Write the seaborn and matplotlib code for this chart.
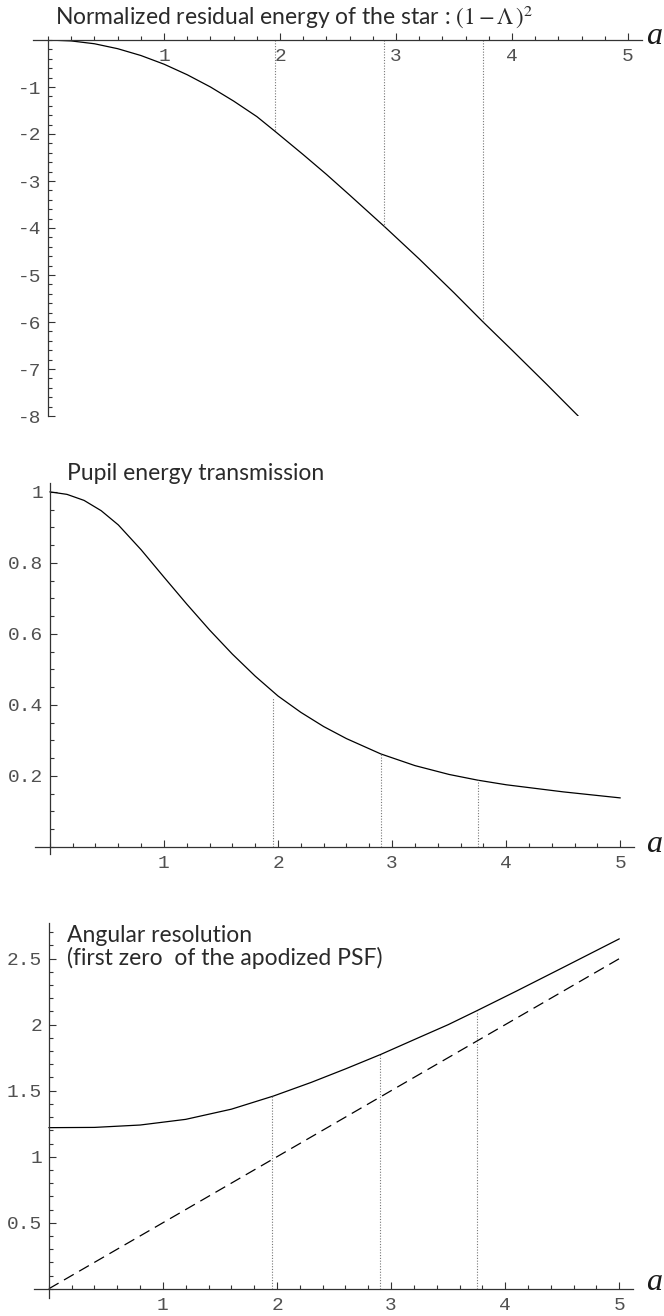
import matplotlib
matplotlib.use("Agg")
import matplotlib.pyplot as plt
import seaborn as sns
from matplotlib.ticker import MultipleLocator

sns.set_theme(style="white")
plt.rcParams.update({"mathtext.fontset": "stix", "font.family": ["DejaVu Sans"],
                     "xtick.bottom": True, "ytick.left": True})

# --- valeurs ---
a_residual = [0, 0.2, 0.4, 0.6, 0.8, 1.0, 1.2, 1.4, 1.6, 1.8, 1.96, 2.2, 2.4, 2.6,
              2.9, 3.2, 3.5, 3.75, 4.0, 4.3, 4.57]
log_residual = [0, -0.02, -0.08, -0.185, -0.33, -0.515, -0.74, -1.0, -1.3, -1.63, -1.95,
                -2.44, -2.86, -3.3, -3.97, -4.66, -5.38, -6.0, -6.6, -7.33, -8.0]

a_transmission = [0, 0.15, 0.3, 0.45, 0.6, 0.8, 1.0, 1.2, 1.4, 1.6, 1.8, 2.0, 2.2, 2.4,
                  2.6, 2.9, 3.2, 3.5, 3.75, 4.0, 4.5, 5.0]
transmission = [1.0, 0.993, 0.976, 0.947, 0.907, 0.837, 0.76, 0.684, 0.611, 0.543, 0.481,
                0.425, 0.379, 0.339, 0.305, 0.262, 0.229, 0.204, 0.188, 0.175, 0.155,
                0.138]

a_resolution = [0, 0.4, 0.8, 1.2, 1.6, 1.97, 2.3, 2.6, 2.91, 3.25, 3.5, 3.75, 4.1, 4.5, 5.0]
resolution = [1.22, 1.222, 1.24, 1.283, 1.36, 1.46, 1.563, 1.665, 1.775, 1.905, 2.0,
              2.105, 2.255, 2.43, 2.65]
a_diffraction = [0, 5]
diffraction = [0, 2.5]

a_marks = [1.96, 2.9, 3.75]
marks_residual = [-1.95, -3.97, -6.0]
marks_transmission = [0.42, 0.262, 0.188]
marks_resolution = [1.46, 1.775, 2.105]

x_ticks = [1, 2, 3, 4, 5]
y_ticks_residual = [-1, -2, -3, -4, -5, -6, -7, -8]
y_labels_residual = ["-1", "-2", "-3", "-4", "-5", "-6", "-7", "-8"]
y_ticks_transmission = [0.2, 0.4, 0.6, 0.8, 1.0]
y_labels_transmission = ["0.2", "0.4", "0.6", "0.8", "1"]
y_ticks_resolution = [0.5, 1.0, 1.5, 2.0, 2.5]
y_labels_resolution = ["0.5", "1", "1.5", "2", "2.5"]

W, H = 664, 1316
fig = plt.figure(figsize=(W / 100, H / 100), dpi=100)


def px_axes(left, top, right, bottom):
    return fig.add_axes([left / W, 1 - bottom / H, (right - left) / W, (bottom - top) / H])


TICK_FONT = dict(family="Liberation Mono", size=14, color="#505050")
TITLE_FONT = dict(family="Lato", size=16.5, color="#2a2a2a")


def style_axes(ax, ylim, yticks, ylabels, yminor):
    ax.set_xlim(-0.13, 5.12)
    ax.set_ylim(*ylim)
    for side in ["top", "right"]:
        ax.spines[side].set_visible(False)
    ax.spines["left"].set_position(("data", 0))
    ax.spines["bottom"].set_position(("data", 0))
    for side in ["left", "bottom"]:
        ax.spines[side].set_color("#333333")
        ax.spines[side].set_linewidth(0.9)
    ax.set_xticks(x_ticks)
    ax.set_xticklabels([str(t) for t in x_ticks], fontdict=TICK_FONT)
    ax.set_yticks(yticks)
    ax.set_yticklabels(ylabels, fontdict=TICK_FONT)
    ax.xaxis.set_minor_locator(MultipleLocator(0.2))
    ax.yaxis.set_minor_locator(MultipleLocator(yminor))
    ax.tick_params(which="both", direction="in", color="#333333", width=0.8,
                   bottom=True, left=True)
    ax.tick_params(axis="x", which="major", length=5, pad=6)
    ax.tick_params(axis="y", which="major", length=5, pad=5)
    ax.tick_params(which="minor", length=3)
    ax.set_xlabel("")
    ax.set_ylabel("")
    ax.patch.set_alpha(0)


def marks(ax, tops):
    ax.vlines(a_marks, 0, tops, colors="#777777", linewidth=0.8, linestyles=(0, (1, 1.5)))


# 1. énergie résiduelle
ax1 = px_axes(33, 40, 642, 416)
sns.lineplot(x=a_residual, y=log_residual, ax=ax1, color="black", linewidth=0.9)
marks(ax1, marks_residual)
style_axes(ax1, (-8, 0), y_ticks_residual, y_labels_residual, 0.2)
fig.text(55 / W, 1 - 17 / H,
         r"Normalized residual energy of the star : $(1-\Lambda\,)^2$",
         ha="left", va="center", **TITLE_FONT)

# 2. transmission
ax2 = px_axes(35, 483, 634, 854)
sns.lineplot(x=a_transmission, y=transmission, ax=ax2, color="black", linewidth=0.9)
marks(ax2, marks_transmission)
style_axes(ax2, (-0.02, 1.025), y_ticks_transmission, y_labels_transmission, 0.05)
fig.text(67 / W, 1 - 473 / H, "Pupil energy transmission", ha="left", va="center",
         **TITLE_FONT)

# 3. résolution angulaire
ax3 = px_axes(34, 923, 633, 1298)
sns.lineplot(x=a_resolution, y=resolution, ax=ax3, color="black", linewidth=0.9)
sns.lineplot(x=a_diffraction, y=diffraction, ax=ax3, color="black", linewidth=0.9,
             linestyle=(0, (9, 5)))
marks(ax3, marks_resolution)
style_axes(ax3, (-0.07, 2.77), y_ticks_resolution, y_labels_resolution, 0.1)
fig.text(67 / W, 1 - 935 / H, "Angular resolution", ha="left", va="center", **TITLE_FONT)
fig.text(67 / W, 1 - 958 / H, "(first zero  of the apodized PSF)", ha="left", va="center",
         **TITLE_FONT)

# étiquette "a" au bout des axes
for y_px in [37, 844, 1283]:
    fig.text(654 / W, 1 - y_px / H, "a", ha="center", va="center",
             family="Liberation Serif", style="italic", size=23, color="#1a1a1a")

fig.savefig("out.png", dpi=100, facecolor="white")
